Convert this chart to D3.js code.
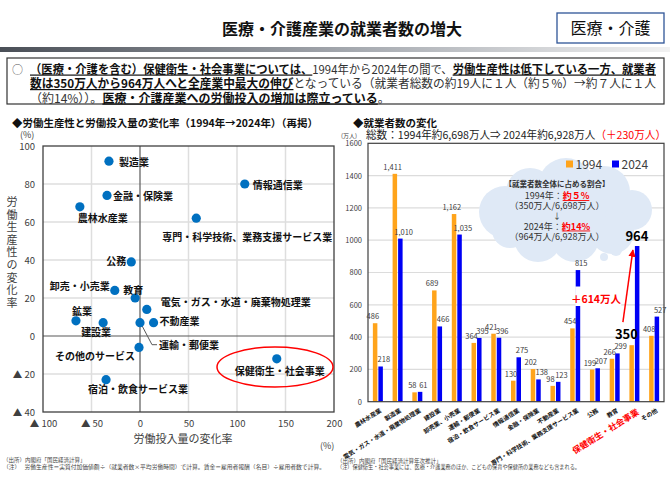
<!DOCTYPE html>
<html><head><meta charset="utf-8">
<script src="https://cdn.jsdelivr.net/npm/d3@7"></script>
<style>
body{margin:0;background:#fff;}
svg{display:block;font-family:"Noto Sans CJK JP","Noto Sans",sans-serif;}
</style></head><body>
<svg id="chart" width="670" height="500"></svg>
<script>
// ---------------- DATA ----------------
// Scatter: change rate 1994 -> 2024 (%)
const scatterIndustries = ["製造業","情報通信業","金融・保険業","農林水産業","専門・科学技術、業務支援サービス業","公務","卸売・小売業","教育","電気・ガス・水道・廃棄物処理業","鉱業","建設業","運輸・郵便業","不動産業","その他のサービス","保健衛生・社会事業","宿泊・飲食サービス業"];
const laborInputChange   = [-32, 108, -34, -62, 58, -9, -26, -5, 7, -66, -38, 0, 14, -1, 141, -35];
const productivityChange = [ 92,  80,  74,  68, 62, 39,  24, 20, 14,  8,   7, 7,  7, -6, -12, -23];
const scatterXTicks = [-100, -50, 0, 50, 100, 150, 200];
const scatterYTicks = [-40, -20, 0, 20, 40, 60, 80, 100];

// Bars: employed persons (万人)
const barCategories = ["農林水産業","製造業","電気・ガス・水道・廃棄物処理業","建設業","卸売業、小売業","運輸・郵便業","宿泊・飲食サービス業","情報通信業","金融・保険業","不動産業","専門・科学技術、業務支援サービス業","公務","教育","保健衛生・社会事業","その他"];
const workers1994 = [486, 1411, 58, 689, 1162, 364, 421, 130, 202, 98, 454, 199, 266, 350, 408];
const workers2024 = [218, 1010, 61, 466, 1035, 395, 396, 275, 138, 123, 815, 207, 299, 964, 527];
const barYTicks = [0, 200, 400, 600, 800, 1000, 1200, 1400, 1600];
const seriesNames = ["1994", "2024"];
const highlightCategory = "保健衛生・社会事業";

// ---------------- STYLE ----------------
const ORANGE = "#FFA41B", BLUE = "#0000F5", DOT = "#0070C0", RED = "#FF0000";
const svg = d3.select("#chart");

// ---------- Header ----------
svg.append("text").attr("x", 342).attr("y", 35).attr("text-anchor", "middle")
  .attr("font-size", 16).attr("font-weight", "bold").attr("fill", "#111")
  .text("医療・介護産業の就業者数の増大");
svg.append("rect").attr("x", 557).attr("y", 13).attr("width", 107).attr("height", 30)
  .attr("fill", "#fff").attr("stroke", "#2F5597").attr("stroke-width", 1.3);
svg.append("text").attr("x", 610.5).attr("y", 34).attr("text-anchor", "middle")
  .attr("font-size", 16).attr("fill", "#111").text("医療・介護");

const defs = svg.append("defs");
const lg = defs.append("linearGradient").attr("id", "hbar");
lg.append("stop").attr("offset", "0").attr("stop-color", "#4a4f57");
lg.append("stop").attr("offset", "0.55").attr("stop-color", "#a9adb3");
lg.append("stop").attr("offset", "1").attr("stop-color", "#f2f2f2");
svg.append("rect").attr("x", 0).attr("y", 47).attr("width", 670).attr("height", 5).attr("fill", "url(#hbar)");

// ---------- Summary box ----------
svg.append("rect").attr("x", 7).attr("y", 58).attr("width", 657).attr("height", 46)
  .attr("fill", "#fff").attr("stroke", "#333").attr("stroke-width", 1.2);
svg.append("text").attr("x", 12).attr("y", 73.5).attr("font-size", 11).attr("fill", "#555").text("○");
const summaryLines = [
  {y: 73.5, len: 626, segs: [
    {t: "（医療・介護を含む）保健衛生・社会事業については、", b: 1},
    {t: "1994年から2024年の間で、"},
    {t: "労働生産性は低下している一方、就業者", b: 1}]},
  {y: 88, len: 626, segs: [
    {t: "数は350万人から964万人へと全産業中最大の伸び", b: 1},
    {t: "となっている（就業者総数の約19人に１人（約５%）→約７人に１人"}]},
  {y: 102.5, len: null, segs: [
    {t: "（約14%））。"},
    {t: "医療・介護産業への労働投入の増加は際立っている", b: 1},
    {t: "。"}]}
];
summaryLines.forEach(l => {
  const t = svg.append("text").attr("x", 30).attr("y", l.y).attr("font-size", 12).attr("fill", "#333");
  if (l.len) t.attr("textLength", l.len).attr("lengthAdjust", "spacingAndGlyphs");
  l.segs.forEach(s => {
    const ts = t.append("tspan").text(s.t);
    if (s.b) ts.attr("font-weight", "bold").attr("fill", "#111").style("text-decoration", "underline");
  });
});

// ---------- Left chart: scatter ----------
svg.append("text").attr("x", 12).attr("y", 127).attr("font-size", 10.5).attr("font-weight", "bold")
  .attr("fill", "#111").attr("textLength", 306).attr("lengthAdjust", "spacingAndGlyphs")
  .text("◆労働生産性と労働投入量の変化率（1994年→2024年）（再掲）");
svg.append("text").attr("x", 20).attr("y", 138).attr("font-size", 9).attr("fill", "#404040").text("(%)");

const xS = d3.scaleLinear().domain([-100, 200]).range([43, 334]);
const yS = d3.scaleLinear().domain([-40, 100]).range([412, 146]);
const gL = svg.append("g");
gL.selectAll("line.vg").data(scatterXTicks.filter(d => d !== 0 && d !== -100 && d !== 200)).join("line")
  .attr("x1", d => xS(d)).attr("x2", d => xS(d)).attr("y1", yS(100)).attr("y2", yS(-40))
  .attr("stroke", "#dedede").attr("stroke-width", 1.5);
gL.selectAll("line.hg").data(scatterYTicks.filter(d => d !== 0 && d !== -40 && d !== 100)).join("line")
  .attr("x1", xS(-100)).attr("x2", xS(200)).attr("y1", d => yS(d)).attr("y2", d => yS(d))
  .attr("stroke", "#dedede").attr("stroke-width", 1.5);
gL.append("line").attr("x1", xS(0)).attr("x2", xS(0)).attr("y1", yS(100)).attr("y2", yS(-40))
  .attr("stroke", "#595959").attr("stroke-width", 1.2);
gL.append("line").attr("x1", xS(-100)).attr("x2", xS(200)).attr("y1", yS(0)).attr("y2", yS(0))
  .attr("stroke", "#595959").attr("stroke-width", 1.2);
gL.append("rect").attr("x", xS(-100)).attr("y", yS(100)).attr("width", xS(200) - xS(-100))
  .attr("height", yS(-40) - yS(100)).attr("fill", "none").attr("stroke", "#404040").attr("stroke-width", 1.3);

const tri = d => d < 0 ? "▲ " + (-d) : String(d);
const yAx = gL.append("g").attr("transform", `translate(${xS(-100)},0)`)
  .call(d3.axisLeft(yS).tickValues(scatterYTicks).tickSize(0).tickPadding(8).tickFormat(tri));
const xAx = gL.append("g").attr("transform", `translate(0,${yS(-40)})`)
  .call(d3.axisBottom(xS).tickValues(scatterXTicks).tickSize(0).tickPadding(8).tickFormat(tri));
[yAx, xAx].forEach(a => {
  a.select(".domain").remove();
  a.selectAll("text").attr("font-size", 9.5).attr("fill", "#404040").attr("font-family", "'Noto Sans CJK JP',sans-serif");
});
// axis titles
const yTitle = "労働生産性の変化率";
gL.append("text").attr("font-size", 11).attr("fill", "#404040").attr("text-anchor", "middle")
  .selectAll("tspan").data(yTitle.split("")).join("tspan")
  .attr("x", 12).attr("y", (d, i) => 206 + i * 12.6).text(d => d);
gL.append("text").attr("x", 183).attr("y", 443).attr("text-anchor", "middle").attr("font-size", 11)
  .attr("fill", "#404040").text("労働投入量の変化率");
gL.append("text").attr("x", 320).attr("y", 449).attr("font-size", 9).attr("fill", "#404040").text("(%)");

// highlight ellipse
gL.append("ellipse").attr("cx", 275).attr("cy", 367).attr("rx", 58).attr("ry", 20)
  .attr("fill", "none").attr("stroke", RED).attr("stroke-width", 1.5);

// label placement (layout only)
const labelPos = {
  "製造業": [10, 0, "start"], "情報通信業": [8, 0, "start"], "金融・保険業": [6, 0, "start"],
  "農林水産業": [23, 11, "middle"], "専門・科学技術、業務支援サービス業": [51, 18, "middle"],
  "公務": [-5, -1, "end"], "卸売・小売業": [-5, -5, "end"], "教育": [-2, -9, "middle"],
  "電気・ガス・水道・廃棄物処理業": [14, -8, "start"], "鉱業": [6, -10, "middle"],
  "建設業": [-7, 9, "middle"], "運輸・郵便業": [19, 22, "start"], "不動産業": [6, -2, "start"],
  "その他のサービス": [-4, 8, "end"], "保健衛生・社会事業": [3, 12, "middle"],
  "宿泊・飲食サービス業": [32, 9, "middle"]
};
const pts = scatterIndustries.map((n, i) => ({n, x: laborInputChange[i], y: productivityChange[i]}));
// leader line for 運輸・郵便業
const tr = pts.find(p => p.n === "運輸・郵便業");
gL.append("polyline").attr("points", `${xS(tr.x) + 2},${yS(tr.y) + 3} ${xS(tr.x) + 12},${yS(tr.y) + 22} ${xS(tr.x) + 17},${yS(tr.y) + 22}`)
  .attr("fill", "none").attr("stroke", "#595959").attr("stroke-width", 1);
gL.selectAll("circle.pt").data(pts).join("circle")
  .attr("cx", d => xS(d.x)).attr("cy", d => yS(d.y)).attr("r", 4.6).attr("fill", DOT);
gL.selectAll("text.pl").data(pts).join("text")
  .attr("x", d => xS(d.x) + labelPos[d.n][0]).attr("y", d => yS(d.y) + labelPos[d.n][1])
  .attr("text-anchor", d => labelPos[d.n][2]).attr("dominant-baseline", "central")
  .attr("font-size", 10).attr("font-weight", "bold").attr("fill", "#111").text(d => d.n);

// ---------- Right chart: bars ----------
svg.append("text").attr("x", 353).attr("y", 127).attr("font-size", 10.5).attr("font-weight", "bold")
  .attr("fill", "#111").text("◆就業者数の変化");
svg.append("text").attr("x", 341).attr("y", 137.5).attr("font-size", 6).attr("fill", "#404040").text("(万人)");
const sub = svg.append("text").attr("x", 366).attr("y", 139).attr("font-size", 11).attr("fill", "#222")
  .attr("textLength", 300).attr("lengthAdjust", "spacingAndGlyphs");
sub.append("tspan").text("総数：1994年約6,698万人⇒ 2024年約6,928万人");
sub.append("tspan").attr("fill", RED).text("（＋230万人）");

const bx = d3.scaleBand().domain(barCategories).range([368, 664]);
const by = d3.scaleLinear().domain([0, 1600]).range([401.7, 143.3]);
const gR = svg.append("g");
gR.selectAll("line.g").data(barYTicks.filter(d => d > 0 && d < 1600)).join("line")
  .attr("x1", 368).attr("x2", 664).attr("y1", d => by(d)).attr("y2", d => by(d))
  .attr("stroke", "#dcdcdc").attr("stroke-width", 1.2);

// cloud callout
const cloud = gR.append("g").attr("fill", "#dfe9f6");
[[505,212,26],[530,192,24],[566,186,28],[604,192,26],[632,210,20],[612,232,22],[575,238,24],[538,238,24],[510,230,18],[566,212,40],[616,250,6],[604,257,4]]
  .forEach(c => cloud.append("circle").attr("cx", c[0]).attr("cy", c[1]).attr("r", c[2]));

// bars
const cx = c => bx(c) + bx.bandwidth() / 2;
const rows = barCategories.map((c, i) => ({c, v1: workers1994[i], v2: workers2024[i]}));
gR.selectAll("rect.b1").data(rows).join("rect")
  .attr("x", d => cx(d.c) - 5).attr("width", 4.5).attr("y", d => by(d.v1)).attr("height", d => by(0) - by(d.v1))
  .attr("fill", ORANGE);
gR.selectAll("rect.b2").data(rows).join("rect")
  .attr("x", d => cx(d.c) + 0.5).attr("width", 4.5).attr("y", d => by(d.v2)).attr("height", d => by(0) - by(d.v2))
  .attr("fill", BLUE);

// frame & axis
gR.append("rect").attr("x", 368).attr("y", by(1600)).attr("width", 296).attr("height", by(0) - by(1600))
  .attr("fill", "none").attr("stroke", "#404040").attr("stroke-width", 1.2);
const bAx = gR.append("g").attr("transform", "translate(368,0)")
  .call(d3.axisLeft(by).tickValues(barYTicks).tickSize(0).tickPadding(6).tickFormat(d3.format("d")));
bAx.select(".domain").remove();
bAx.selectAll("text").attr("font-size", 7.5).attr("fill", "#404040").attr("font-family", "'Noto Sans CJK JP',sans-serif");

// value labels
const fmt = d3.format(",");
const normal = rows.filter(d => d.c !== highlightCategory);
gR.selectAll("text.v1").data(normal).join("text")
  .attr("x", d => cx(d.c) - 5).attr("y", d => by(d.v1) - 4).attr("text-anchor", "middle")
  .attr("font-size", 7.5).attr("fill", "#404040").text(d => fmt(d.v1));
gR.selectAll("text.v2").data(normal).join("text")
  .attr("x", d => cx(d.c) + 6).attr("y", d => by(d.v2) - 4).attr("text-anchor", "middle")
  .attr("font-size", 7.5).attr("fill", "#404040").text(d => fmt(d.v2));

// legend
seriesNames.forEach((s, i) => {
  const lx = 566 + i * 46;
  gR.append("rect").attr("x", lx).attr("y", 160.5).attr("width", 7).attr("height", 7).attr("fill", i ? BLUE : ORANGE);
  gR.append("text").attr("x", lx + 9.5).attr("y", 168.5).attr("font-size", 12).attr("fill", "#404040").text(s);
});

// cloud text
const ct = [
  {y: 187, s: 7.5, segs: [{t: "【就業者数全体に占める割合】", b: 1}]},
  {y: 199, s: 9, segs: [{t: "1994年："}, {t: "約５%", r: 1}]},
  {y: 209, s: 9, segs: [{t: "（350万人/6,698万人）"}]},
  {y: 219, s: 8, segs: [{t: "↓"}]},
  {y: 229.5, s: 9, segs: [{t: "2024年："}, {t: "約14%", r: 1}]},
  {y: 239.5, s: 9, segs: [{t: "（964万人/6,928万人）"}]}
];
ct.forEach(l => {
  const t = gR.append("text").attr("x", 557).attr("y", l.y).attr("text-anchor", "middle")
    .attr("font-size", l.s).attr("fill", "#333");
  l.segs.forEach(s => {
    const ts = t.append("tspan").text(s.t);
    if (s.b) ts.attr("font-weight", "bold");
    if (s.r) ts.attr("fill", RED).attr("font-weight", "bold").style("text-decoration", "underline");
  });
});

// +614 annotation on the 専門 bar
const sp = "専門・科学技術、業務支援サービス業";
gR.append("rect").attr("x", cx(sp)).attr("y", 286.5).attr("width", 46).attr("height", 19.5).attr("fill", "#fff");
gR.append("text").attr("x", 596).attr("y", 298).attr("text-anchor", "middle").attr("dominant-baseline", "central")
  .attr("font-size", 10.5).attr("font-weight", "bold").attr("fill", RED).text("＋614万人");

// highlight category labels + arrow
const h = rows.find(d => d.c === highlightCategory);
gR.append("text").attr("x", cx(h.c) - 8).attr("y", by(h.v1) - 12).attr("text-anchor", "middle")
  .attr("dominant-baseline", "central").attr("font-size", 13).attr("font-weight", "bold").attr("fill", "#000").text(h.v1);
gR.append("text").attr("x", cx(h.c) + 2.5).attr("y", by(h.v2) - 11).attr("text-anchor", "middle")
  .attr("dominant-baseline", "central").attr("font-size", 13).attr("font-weight", "bold").attr("fill", "#000").text(h.v2);
defs.append("marker").attr("id", "ah").attr("viewBox", "0 0 10 10").attr("refX", 9).attr("refY", 5)
  .attr("markerWidth", 5).attr("markerHeight", 5).attr("orient", "auto")
  .append("path").attr("d", "M0,0L10,5L0,10z").attr("fill", RED);
gR.append("line").attr("x1", cx(h.c) - 11.5).attr("y1", by(h.v1) - 23).attr("x2", cx(h.c) - 1.5).attr("y2", by(h.v2) + 4)
  .attr("stroke", RED).attr("stroke-width", 1.5).attr("marker-end", "url(#ah)");

// category labels
gR.selectAll("text.cat").data(barCategories).join("text")
  .attr("transform", d => `translate(${cx(d) + 1},${407}) rotate(-32)`)
  .attr("text-anchor", "end").attr("dominant-baseline", "hanging")
  .attr("font-size", d => d === highlightCategory ? 8.5 : 6)
  .attr("font-weight", "bold").attr("fill", d => d === highlightCategory ? RED : "#111").text(d => d);

// ---------- Footnotes ----------
const notes = [
  {x: 3, y: 462, t: "（出所）内閣府「国民経済計算」", len: null},
  {x: 3, y: 468.5, t: "（注）　 労働生産性＝実質付加価値額÷（就業者数×平均労働時間）で計算。賃金＝雇用者報酬（名目）÷雇用者数で計算。", len: 322},
  {x: 337, y: 462.5, t: "（出所）内閣府「国民経済計算年次推計」", len: null},
  {x: 337, y: 469, t: "（注）保健衛生・社会事業には、医療・介護業務のほか、こどもの保育や保健所の業務なども含まれる。", len: 243}
];
notes.forEach(n => {
  const t = svg.append("text").attr("x", n.x).attr("y", n.y).attr("font-size", 5.5).attr("fill", "#444").text(n.t);
  if (n.len) t.attr("textLength", n.len).attr("lengthAdjust", "spacingAndGlyphs");
});
</script>
</body></html>
